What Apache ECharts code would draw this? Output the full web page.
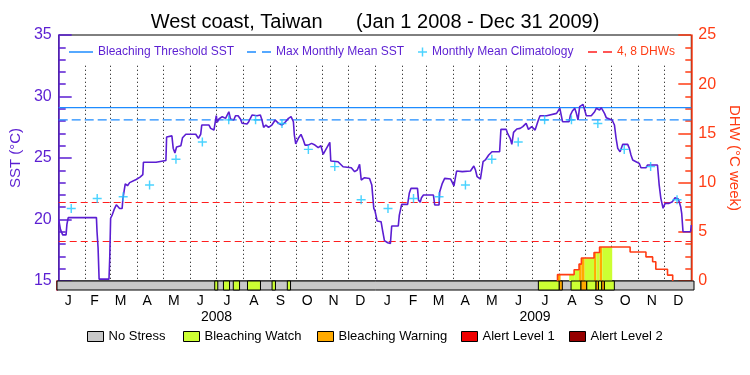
<!DOCTYPE html>
<html><head><meta charset="utf-8">
<script src="https://cdn.jsdelivr.net/npm/echarts@6/dist/echarts.min.js"></script>
<style>html,body{margin:0;padding:0;background:#fff}#c{width:750px;height:375px}</style>
</head><body><div id="c"></div>
<script>
// ---------- data ----------
const titleText = 'West coast, Taiwan      (Jan 1 2008 - Dec 31 2009)';
const monthStarts = [0,31,60,91,121,152,182,213,244,274,305,335,366,397,425,456,486,517,547,578,609,639,670,700,731];
const monthLetters = ['J','F','M','A','M','J','J','A','S','O','N','D','J','F','M','A','M','J','J','A','S','O','N','D'];
const years = ['2008','2009'];
const yearStarts = [0,366,731];

const sstDays = [0,1.2,2,4.6,8.5,9.5,11,43.6,44.3,45.5,46.7,58.1,59,60,62,64,66.6,70.4,73.3,74.2,76.9,79.5,82,89.5,94,97.2,97.9,112.5,113,123.9,124.7,127,130.8,132.3,134.3,136.2,141.2,143.1,146.9,158.4,161.4,164.1,165.3,173.7,175.6,179.4,180.5,182.1,183.2,185.1,189,192.8,196.6,198.5,202.3,204.3,207.3,210,211.9,217.6,219.6,223.4,225.3,229.1,233,234.9,236.8,239.4,242.5,246.3,250.2,254,257.8,261.6,265.5,268.5,271.2,272.3,273.9,276.9,280,282.7,284.6,288.4,292.2,296.1,299.9,303,305.6,309.4,313.3,314.4,322.8,328.6,338.1,342,345,347.7,349.6,353.4,359.2,361.8,364.1,365.5,368,372.5,374.5,376.4,380.2,383.3,384.8,392.4,393.6,396.3,403.2,405.1,407,414.6,415.8,417.7,419.2,421.5,433,434.5,439.5,440.3,443.3,446,452.9,454.8,456.7,458.6,459.8,466.3,475.8,479.7,481.6,483.5,487.3,489.2,490.4,493,496.9,500.7,509.5,511,517.1,518.7,521.7,523.6,525.6,529.4,533.2,536.3,540.1,542.8,546.6,548.5,550.5,552.4,554.3,556.2,563.8,575.3,579.1,582.2,589.8,591.3,593.6,596.3,598.2,600.1,602,604,605.9,607.8,609.7,615.4,619.3,621.2,625,626.9,628.8,630.7,632.7,636.5,639.5,642.2,644.1,646,648.7,651.8,653.7,657.5,659.4,661.3,663.3,667.1,670.9,672.8,678.6,680.5,691.9,693.9,695.8,698.4,700.7,705.3,709.2,712.2,716,718.7,719.9,721.4,730.2,731];
const sstValues = [20.0,20.0,19.2,18.75,18.75,19.6,20.15,20.15,19.0,17.7,15.15,15.15,16.9,20.1,20.4,20.8,21.2,20.9,20.9,21.7,22.9,22.75,23.0,23.25,23.45,23.65,24.65,24.65,24.8,24.8,26.7,26.85,26.8,25.8,25.4,25.9,26.0,26.65,26.93,26.93,26.6,26.93,27.68,27.68,27.41,27.27,27.14,28.44,27.9,28.17,28.36,28.22,28.76,28.17,28.09,28.44,28.44,28.17,27.82,27.76,27.95,28.49,28.63,28.44,28.49,28.09,27.49,27.68,27.49,27.68,28.09,27.82,27.68,27.9,28.22,28.36,27.95,26.87,26.14,26.6,26.92,26.46,26.05,26.05,26.19,26.05,25.84,26.0,25.3,25.78,26.27,24.75,24.7,24.29,24.21,23.89,24.02,24.48,23.21,23.4,23.34,22.8,20.9,20.7,19.88,19.82,19.01,18.28,18.11,18.06,19.47,19.47,20.36,21.23,21.23,22.13,22.53,22.53,21.58,21.39,21.77,21.99,21.99,21.18,21.18,22.26,22.94,23.34,23.29,23.02,22.72,23.48,23.94,23.89,23.94,24.35,24.02,23.48,23.29,23.34,24.7,24.84,25.24,25.51,25.51,27.33,27.33,27.0,26.6,26.11,27.08,27.36,27.41,27.55,27.82,27.33,27.55,27.55,27.27,27.68,28.09,28.44,28.44,28.63,29.04,27.95,27.95,28.49,28.82,29.04,28.63,28.09,29.17,29.31,29.36,29.36,28.44,28.44,28.76,29.04,28.9,29.09,29.04,28.63,28.28,28.17,28.09,27.68,26.6,25.78,25.51,26.11,26.27,26.11,25.78,25.24,24.84,24.7,24.56,24.21,24.21,24.43,24.43,22.8,21.72,20.91,21.31,21.31,21.45,21.77,21.66,21.04,20.5,19.01,19.01,19.55];

const climValues = [20.9,21.7,21.85,22.8,24.9,26.3,28.1,28.1,27.8,25.7,24.3,21.6, 20.9,21.7,21.85,22.8,24.9,26.3,28.1,28.1,27.8,25.7,24.3,21.6];
const bleachingThreshold = 29.1;
const maxMonthlyMean = 28.1;
const dhwLevels = [4, 8];

const dhwDays   = [576.4,576.4,595.6,601.3,604,618.6,625,660.3,678.6,686.3,690,703.5,709.5];
const dhwValues = [0,0.65,1.15,1.72,2.33,2.9,3.45,2.95,2.45,1.95,1.2,0.6,0];

const stressNames = ['No Stress','Bleaching Watch','Bleaching Warning','Alert Level 1','Alert Level 2'];
const stressStart = [181,191,202.3,218.6,246.8,264.3, 552.4,576.4,589.9,601.3,607.8,618.6,621.3,625.1,628.1];
const stressEnd   = [184.5,198,209.5,233.5,250.7,268, 576.4,579.9,601.3,607.8,618.6,621.3,625.1,628.1,639.6];
const stressLevel = [1,1,1,1,1,1, 1,2,1,2,1,2,1,2,1];

// ---------- styling ----------
const FONT = 'Liberation Sans';
const PURPLE = '#5b1ed2';
const ORANGE = '#ff3c14';
const BLUE = '#1e8cff';
const stressColors = ['#c8c8c8','#ccff33','#ffaa00','#f00000','#960000'];
const monthLineTop = 32.5;

// ---------- derived ----------
const xMin = monthStarts[0], xMax = monthStarts[monthStarts.length-1];
const sstData = sstDays.map((d,i)=>[d, sstValues[i]]);
const monthMid = monthStarts.slice(0,-1).map((s,i)=>(s+monthStarts[i+1])/2);
const monthLabelDays = monthMid.map(m=>m-2.5);
const climData = monthMid.map((m,i)=>[m-1, climValues[i]]);
const yearMid = years.map((y,i)=>(yearStarts[i]+yearStarts[i+1])/2);
const dhwData = dhwDays.map((d,i)=>[d, dhwValues[i]]);

function dhwAt(day){ let v=0; for(let i=0;i<dhwDays.length;i++){ if(day>=dhwDays[i]) v=dhwValues[i]; } return v; }
const fillPieces = [];
stressStart.forEach((s,i)=>{
  const e = stressEnd[i], lv = stressLevel[i];
  const cuts = [s].concat(dhwDays.filter(d=>d>s && d<e)).concat([e]);
  for(let k=0;k<cuts.length-1;k++){
    const h = dhwAt(cuts[k]);
    if(h>0 && lv>0) fillPieces.push([cuts[k], cuts[k+1], h, lv]);
  }
});

const monthLines = monthStarts.slice(1,-1).map(d=>[{coord:[d, monthLineTop]},{coord:[d,15]}]);

function stripItem(params, api){
  const a = api.coord([api.value(0), 1]);
  const b = api.coord([api.value(1), 0]);
  return {type:'rect', shape:{x:a[0], y:a[1], width:b[0]-a[0], height:b[1]-a[1]},
    style:{fill:api.visual('color'), stroke:'#000', lineWidth:1}};
}
function fillItem(params, api){
  const a = api.coord([api.value(0), api.value(2)]);
  const b = api.coord([api.value(1), 0]);
  return {type:'rect', shape:{x:a[0], y:a[1], width:b[0]-a[0], height:b[1]-a[1]},
    style:{fill:stressColors[api.value(3)]}};
}

const stripSeries = stressNames.map((nm, lv)=>({
  name: nm, type:'custom', xAxisIndex:1, yAxisIndex:2, z: 2+lv,
  itemStyle:{color:stressColors[lv]},
  renderItem: stripItem,
  data: lv===0 ? [[xMin,xMax]] : stressStart.map((s,i)=>[s, stressEnd[i], stressLevel[i]]).filter(r=>r[2]===lv)
}));

const plusPath = 'path://M4.2,0H5.8V4.2H10V5.8H5.8V10H4.2V5.8H0V4.2H4.2Z';
const solidPath = 'path://M0,0H24V1.5H0Z';
const dashPath = 'path://M0,0H9V1.5H0Z M15,0H24V1.5H15Z';

function topLegend(name, left, icon, w, color){
  return {left:left, top:46, padding:0, itemWidth:w, itemHeight:9, selectedMode:false,
    symbolKeepAspect:true, itemStyle:{borderWidth:0},
    data:[{name:name, icon:icon}], textStyle:{fontFamily:FONT, fontSize:12, color:color}};
}
function botLegend(name, left){
  return {left:left, top:330, padding:0, itemWidth:16, itemHeight:10, selectedMode:false,
    itemStyle:{borderColor:'#000', borderWidth:1},
    data:[{name:name, icon:'rect'}], textStyle:{fontFamily:FONT, fontSize:13, color:'#000'}};
}

const option = {
  animation:false,
  backgroundColor:'#fff',
  title:{text:titleText, left:'center', top:12, padding:0,
    textStyle:{fontFamily:FONT, fontSize:20, fontWeight:'normal', color:'#000'}},
  legend:[
    topLegend('Bleaching Threshold SST', 69, solidPath, 24, PURPLE),
    topLegend('Max Monthly Mean SST', 247, dashPath, 24, PURPLE),
    topLegend('Monthly Mean Climatology', 418, plusPath, 9, PURPLE),
    topLegend('4, 8 DHWs', 588, dashPath, 24, ORANGE),
    botLegend(stressNames[0], 87), botLegend(stressNames[1], 183), botLegend(stressNames[2], 317),
    botLegend(stressNames[3], 461), botLegend(stressNames[4], 569)
  ],
  grid:[
    {left:57, right:56, top:35, height:246, show:true, borderColor:'#000', borderWidth:1, backgroundColor:'transparent'},
    {left:57, right:56, top:281, height:9}
  ],
  xAxis:[
    {gridIndex:0, type:'value', min:xMin, max:xMax, axisLine:{show:false}, axisTick:{show:false}, axisLabel:{show:false}, splitLine:{show:false}},
    {gridIndex:1, type:'value', position:'bottom', min:xMin, max:xMax, axisLine:{show:false}, axisTick:{show:false}, splitLine:{show:false},
      axisLabel:{customValues:monthLabelDays, margin:4, fontFamily:FONT, fontSize:14, color:'#000',
        formatter:(v)=>{const i=monthLabelDays.findIndex(m=>Math.abs(m-v)<0.01); return i>=0?monthLetters[i]:'';}}},
    {gridIndex:1, type:'value', position:'bottom', min:xMin, max:xMax, offset:16, axisLine:{show:false}, axisTick:{show:false}, splitLine:{show:false},
      axisLabel:{customValues:yearMid, margin:4, fontFamily:FONT, fontSize:14, color:'#000',
        formatter:(v)=>{const i=yearMid.findIndex(m=>Math.abs(m-v)<0.01); return i>=0?years[i]:'';}}}
  ],
  yAxis:[
    {gridIndex:0, type:'value', position:'left', min:15, max:35, interval:5,
      axisLine:{show:true, lineStyle:{color:PURPLE, width:1.5}},
      axisTick:{show:true, inside:true, length:13, lineStyle:{color:PURPLE, width:1.5}},
      minorTick:{show:true, splitNumber:5, length:7, lineStyle:{color:PURPLE, width:1.5}},
      axisLabel:{color:PURPLE, fontFamily:FONT, fontSize:16, margin:7},
      splitLine:{show:false},
      name:'SST (°C)', nameLocation:'middle', nameGap:33,
      nameTextStyle:{color:PURPLE, fontFamily:FONT, fontSize:15}},
    {gridIndex:0, type:'value', position:'right', min:0, max:25, interval:5,
      axisLine:{show:true, lineStyle:{color:ORANGE, width:1.5}},
      axisTick:{show:true, inside:true, length:13, lineStyle:{color:ORANGE, width:1.5}},
      minorTick:{show:true, splitNumber:4, length:6, lineStyle:{color:ORANGE, width:1.5}},
      axisLabel:{color:ORANGE, fontFamily:FONT, fontSize:16, margin:7},
      splitLine:{show:false},
      name:'DHW (°C week)', nameLocation:'middle', nameGap:31, nameRotate:-90,
      nameTextStyle:{color:ORANGE, fontFamily:FONT, fontSize:15}},
    {gridIndex:1, type:'value', position:'left', min:0, max:1,
      axisLine:{show:true, lineStyle:{color:PURPLE, width:1.5}}, axisTick:{show:false}, axisLabel:{show:false}, splitLine:{show:false}},
    {gridIndex:1, type:'value', position:'right', min:0, max:1,
      axisLine:{show:true, lineStyle:{color:ORANGE, width:1.5}}, axisTick:{show:false}, axisLabel:{show:false}, splitLine:{show:false}}
  ],
  series:[
    {name:'SST', type:'line', xAxisIndex:0, yAxisIndex:0, data:sstData, symbol:'none', z:6,
      lineStyle:{color:PURPLE, width:1.6}, itemStyle:{color:PURPLE},
      markLine:{silent:true, symbol:'none', label:{show:false}, z:1,
        lineStyle:{color:'#000', width:1, type:[1,3]}, data:monthLines}},
    {name:'Bleaching Threshold SST', type:'line', xAxisIndex:0, yAxisIndex:0, symbol:'none', z:5,
      data:[[xMin,bleachingThreshold],[xMax,bleachingThreshold]],
      lineStyle:{color:BLUE, width:1.2, type:'solid'}, itemStyle:{color:BLUE}},
    {name:'Max Monthly Mean SST', type:'line', xAxisIndex:0, yAxisIndex:0, symbol:'none', z:5,
      data:[[xMin,maxMonthlyMean],[xMax,maxMonthlyMean]],
      lineStyle:{color:BLUE, width:1.3, type:[9,4]}, itemStyle:{color:BLUE}},
    {name:'Monthly Mean Climatology', type:'scatter', xAxisIndex:0, yAxisIndex:0, data:climData,
      symbol:plusPath, symbolSize:9, itemStyle:{color:'#1ec8ff'}, z:7},
    {name:'4, 8 DHWs', type:'line', xAxisIndex:0, yAxisIndex:1, data:[], color:'#ff1e1e',
      markLine:{silent:true, symbol:'none', label:{show:false}, lineStyle:{color:'#ff1e1e', width:1.2, type:[7,4]},
        data:dhwLevels.map(v=>({yAxis:v}))}},
    {name:'DHW fill', type:'custom', xAxisIndex:0, yAxisIndex:1, data:fillPieces, renderItem:fillItem, z:3},
    {name:'DHW', type:'line', xAxisIndex:0, yAxisIndex:1, data:dhwData, step:'end', symbol:'none', z:4,
      lineStyle:{color:ORANGE, width:1.6}, itemStyle:{color:ORANGE}}
  ].concat(stripSeries)
};

const chart = echarts.init(document.getElementById('c'), null, {renderer:'canvas'});
chart.setOption(option);
</script></body></html>
